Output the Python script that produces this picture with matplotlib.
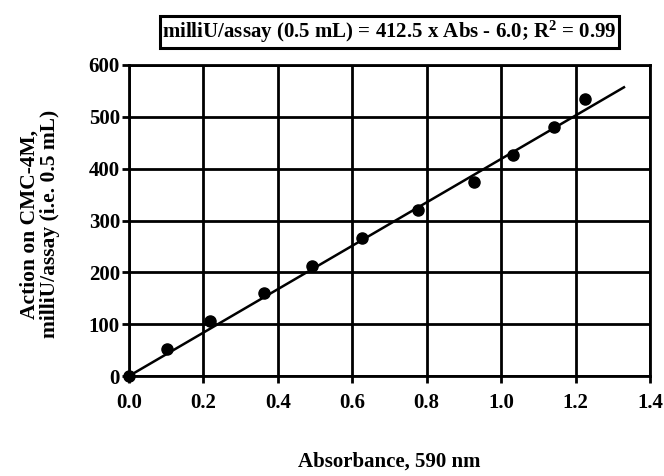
import matplotlib
matplotlib.use("Agg")
import matplotlib.pyplot as plt

absorbance = [0.0, 0.101, 0.217, 0.362, 0.492, 0.626, 0.777, 0.927, 1.032, 1.141, 1.226]
activity = [0, 53, 106, 160, 213, 266, 321, 374, 427, 481, 534]
fit_x = [0.0, 1.33]
fit_y = [0.0, 557]
x_ticks = [0.0, 0.2, 0.4, 0.6, 0.8, 1.0, 1.2, 1.4]
y_ticks = [0, 100, 200, 300, 400, 500, 600]
title = "milliU/assay (0.5 mL) = 412.5 x Abs - 6.0; R$^2$ = 0.99"

plt.rcParams['font.family'] = ['Liberation Serif', 'DejaVu Serif']
plt.rcParams['font.weight'] = 'bold'
plt.rcParams['mathtext.fontset'] = 'custom'
plt.rcParams['mathtext.rm'] = 'Liberation Serif:bold'
plt.rcParams['mathtext.default'] = 'rm'

fig = plt.figure(figsize=(6.64, 4.76), dpi=100)
ax = fig.add_axes([129/664, 1-376/476, (650-129)/664, (376-65)/476])

ax.plot(fit_x, fit_y, color='black', lw=1.8, zorder=3)
ax.plot(absorbance, activity, 'o', color='black', ms=8, zorder=4, clip_on=False)

ax.set_xlim(0, 1.4)
ax.set_ylim(0, 600)
ax.set_xticks(x_ticks)
ax.set_yticks(y_ticks)
ax.set_xticklabels([f"{v:.1f}" for v in x_ticks], fontsize=15, fontweight='bold')
ax.set_yticklabels([str(v) for v in y_ticks], fontsize=15, fontweight='bold')
ax.grid(True, color='black', lw=2.0)
ax.set_axisbelow(True)
for s in ax.spines.values():
    s.set_linewidth(2.0)
ax.tick_params(axis='y', direction='out', length=5, width=2.0, pad=1.5)
ax.tick_params(axis='x', direction='out', length=5, width=2.0, pad=7)

fig.text(40/664, 1-224/476, "Action on CMC-4M,\nmilliU/assay (i.e. 0.5 mL)", rotation=90,
         ha='center', va='center', fontsize=15.5, fontweight='bold', linespacing=1.05)
fig.text(389.5/664, 1-462/476, "Absorbance, 590 nm", ha='center', va='center',
         fontsize=15, fontweight='bold')
fig.text(389.5/664, 1-32/476, title, ha='center', va='center', fontsize=15, fontweight='bold',
         bbox=dict(boxstyle='square,pad=0.12', facecolor='white', edgecolor='black', lw=2.2))

fig.savefig("out.png", dpi=100)
